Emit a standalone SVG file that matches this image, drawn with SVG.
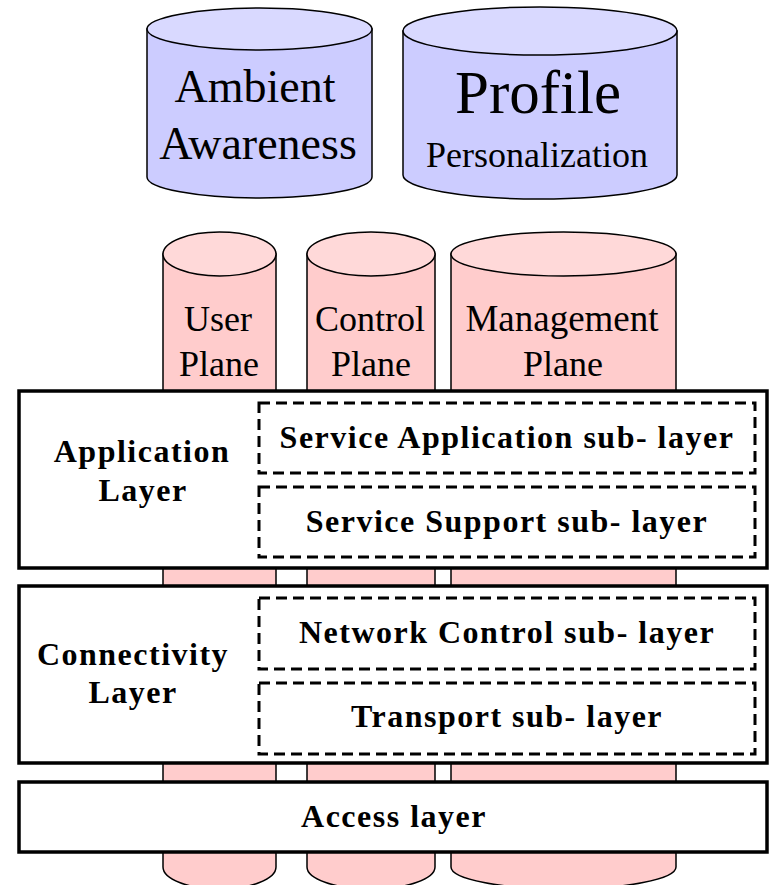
<svg xmlns="http://www.w3.org/2000/svg" width="769" height="885" viewBox="0 0 769 885">
<style>
.cylb{fill:#ccccff;stroke:#000;stroke-width:1.5}
.topb{fill:#d9d9ff;stroke:#000;stroke-width:1.5}
.cylp{fill:#ffcccc;stroke:#000;stroke-width:1.5}
.topp{fill:#ffd9d9;stroke:#000;stroke-width:1.5}
.box{fill:#fff;stroke:#000;stroke-width:3.5}
.dash{fill:none;stroke:#000;stroke-width:3;stroke-dasharray:11 6}
.t{font-family:"Liberation Serif","Times New Roman",serif;fill:#000;text-anchor:middle}
.b{font-family:"Liberation Serif","Times New Roman",serif;font-weight:bold;font-size:32px;letter-spacing:1.5px;fill:#000;text-anchor:middle}
</style>
<g id="ambient">
<path class="cylb" d="M147,29 V177 A112.5,21 0 0 0 372,177 V29 Z"/>
<ellipse class="topb" cx="259.5" cy="29" rx="112.5" ry="21"/>
<text class="t" x="255" y="102" font-size="46">Ambient</text>
<text class="t" x="258" y="159" font-size="46">Awareness</text>
</g>
<g id="profile">
<path class="cylb" d="M403,31 V175 A137,24 0 0 0 677,175 V31 Z"/>
<ellipse class="topb" cx="540" cy="31" rx="137" ry="24"/>
<text class="t" x="538" y="113" font-size="61">Profile</text>
<text class="t" x="537" y="167" font-size="36">Personalization</text>
</g>
<g id="user-plane">
<path class="cylp" d="M163,254 V867 A56.5,22 0 0 0 276,867 V254 Z"/>
<ellipse class="topp" cx="219.5" cy="254" rx="56.5" ry="22"/>
<text class="t" x="218" y="331" font-size="36">User</text>
<text class="t" x="219" y="376" font-size="36">Plane</text>
</g>
<g id="control-plane">
<path class="cylp" d="M307,254 V867 A64,22 0 0 0 435,867 V254 Z"/>
<ellipse class="topp" cx="371" cy="254" rx="64" ry="22"/>
<text class="t" x="370" y="331" font-size="36">Control</text>
<text class="t" x="371" y="376" font-size="36">Plane</text>
</g>
<g id="management-plane">
<path class="cylp" d="M451,254 V867 A112.5,22 0 0 0 676,867 V254 Z"/>
<ellipse class="topp" cx="563.5" cy="254" rx="112.5" ry="22"/>
<text class="t" x="562" y="331" font-size="37">Management</text>
<text class="t" x="563" y="376" font-size="36">Plane</text>
</g>
<g id="application-layer">
<rect class="box" x="19" y="391" width="748" height="177"/>
<text class="b" x="142" y="462">Application</text>
<text class="b" x="143" y="501">Layer</text>
</g>
<g id="service-application">
<rect class="dash" x="259" y="403" width="496" height="70"/>
<text class="b" x="507" y="448">Service Application sub- layer</text>
</g>
<g id="service-support">
<rect class="dash" x="259" y="487" width="496" height="70"/>
<text class="b" x="507" y="532">Service Support sub- layer</text>
</g>
<g id="connectivity-layer">
<rect class="box" x="19" y="586" width="748" height="177"/>
<text class="b" x="133" y="665">Connectivity</text>
<text class="b" x="133" y="703">Layer</text>
</g>
<g id="network-control">
<rect class="dash" x="259" y="598" width="496" height="71"/>
<text class="b" x="507" y="643">Network Control sub- layer</text>
</g>
<g id="transport">
<rect class="dash" x="259" y="683" width="496" height="71"/>
<text class="b" x="507" y="727">Transport sub- layer</text>
</g>
<g id="access-layer">
<rect class="box" x="19" y="782" width="748" height="70"/>
<text class="b" x="394" y="827">Access layer</text>
</g>
<g id="connectors"></g>
</svg>
